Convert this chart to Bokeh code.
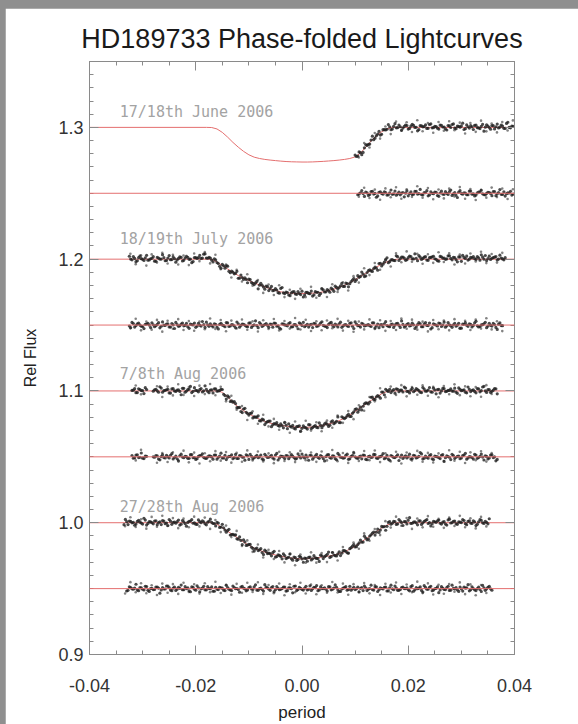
import numpy as np
from bokeh.plotting import figure
from bokeh.layouts import column
from bokeh.models import Range1d, LinearAxis, FixedTicker, Span, Label
from bokeh.embed import file_html
from bokeh.resources import INLINE

# ---------------------------------------------------------------------------
# Phase grids (orbital phase, in periods): interleaved sets of exposures
# ---------------------------------------------------------------------------
PHASE = [
    -0.0335, -0.0330, -0.0325, -0.0320, -0.0315, -0.0310, -0.0305, -0.0300, -0.0295, -0.0290,
    -0.0285, -0.0280, -0.0275, -0.0270, -0.0265, -0.0260, -0.0255, -0.0250, -0.0245, -0.0240,
    -0.0235, -0.0230, -0.0225, -0.0220, -0.0215, -0.0210, -0.0205, -0.0200, -0.0195, -0.0190,
    -0.0185, -0.0180, -0.0175, -0.0170, -0.0165, -0.0160, -0.0155, -0.0150, -0.0145, -0.0140,
    -0.0135, -0.0130, -0.0125, -0.0120, -0.0115, -0.0110, -0.0105, -0.0100, -0.0095, -0.0090,
    -0.0085, -0.0080, -0.0075, -0.0070, -0.0065, -0.0060, -0.0055, -0.0050, -0.0045, -0.0040,
    -0.0035, -0.0030, -0.0025, -0.0020, -0.0015, -0.0010, -0.0005, 0.0000, 0.0005, 0.0010,
    0.0015, 0.0020, 0.0025, 0.0030, 0.0035, 0.0040, 0.0045, 0.0050, 0.0055, 0.0060,
    0.0065, 0.0070, 0.0075, 0.0080, 0.0085, 0.0090, 0.0095, 0.0100, 0.0105, 0.0110,
    0.0115, 0.0120, 0.0125, 0.0130, 0.0135, 0.0140, 0.0145, 0.0150, 0.0155, 0.0160,
    0.0165, 0.0170, 0.0175, 0.0180, 0.0185, 0.0190, 0.0195, 0.0200, 0.0205, 0.0210,
    0.0215, 0.0220, 0.0225, 0.0230, 0.0235, 0.0240, 0.0245, 0.0250, 0.0255, 0.0260,
    0.0265, 0.0270, 0.0275, 0.0280, 0.0285, 0.0290, 0.0295, 0.0300, 0.0305, 0.0310,
    0.0315, 0.0320, 0.0325, 0.0330, 0.0335, 0.0340, 0.0345, 0.0350, 0.0355, 0.0360,
    0.0365, 0.0370, 0.0375, 0.0380, 0.0385, 0.0390, 0.0395,
]
PHASE_B = [
    -0.03325, -0.03275, -0.03225, -0.03175, -0.03125, -0.03075, -0.03025, -0.02975, -0.02925, -0.02875,
    -0.02825, -0.02775, -0.02725, -0.02675, -0.02625, -0.02575, -0.02525, -0.02475, -0.02425, -0.02375,
    -0.02325, -0.02275, -0.02225, -0.02175, -0.02125, -0.02075, -0.02025, -0.01975, -0.01925, -0.01875,
    -0.01825, -0.01775, -0.01725, -0.01675, -0.01625, -0.01575, -0.01525, -0.01475, -0.01425, -0.01375,
    -0.01325, -0.01275, -0.01225, -0.01175, -0.01125, -0.01075, -0.01025, -0.00975, -0.00925, -0.00875,
    -0.00825, -0.00775, -0.00725, -0.00675, -0.00625, -0.00575, -0.00525, -0.00475, -0.00425, -0.00375,
    -0.00325, -0.00275, -0.00225, -0.00175, -0.00125, -0.00075, -0.00025, 0.00025, 0.00075, 0.00125,
    0.00175, 0.00225, 0.00275, 0.00325, 0.00375, 0.00425, 0.00475, 0.00525, 0.00575, 0.00625,
    0.00675, 0.00725, 0.00775, 0.00825, 0.00875, 0.00925, 0.00975, 0.01025, 0.01075, 0.01125,
    0.01175, 0.01225, 0.01275, 0.01325, 0.01375, 0.01425, 0.01475, 0.01525, 0.01575, 0.01625,
    0.01675, 0.01725, 0.01775, 0.01825, 0.01875, 0.01925, 0.01975, 0.02025, 0.02075, 0.02125,
    0.02175, 0.02225, 0.02275, 0.02325, 0.02375, 0.02425, 0.02475, 0.02525, 0.02575, 0.02625,
    0.02675, 0.02725, 0.02775, 0.02825, 0.02875, 0.02925, 0.02975, 0.03025, 0.03075, 0.03125,
    0.03175, 0.03225, 0.03275, 0.03325, 0.03375, 0.03425, 0.03475, 0.03525, 0.03575, 0.03625,
    0.03675, 0.03725, 0.03775, 0.03825, 0.03875, 0.03925, 0.03975,
]
# sparser grid of the widely scattered exposures
PHASE_C = [
    -0.0333, -0.0323, -0.0313, -0.0303, -0.0293, -0.0283, -0.0273, -0.0263, -0.0253, -0.0243,
    -0.0233, -0.0223, -0.0213, -0.0203, -0.0193, -0.0183, -0.0173, -0.0163, -0.0153, -0.0143,
    -0.0133, -0.0123, -0.0113, -0.0103, -0.0093, -0.0083, -0.0073, -0.0063, -0.0053, -0.0043,
    -0.0033, -0.0023, -0.0013, -0.0003, 0.0007, 0.0017, 0.0027, 0.0037, 0.0047, 0.0057,
    0.0067, 0.0077, 0.0087, 0.0097, 0.0107, 0.0117, 0.0127, 0.0137, 0.0147, 0.0157,
    0.0167, 0.0177, 0.0187, 0.0197, 0.0207, 0.0217, 0.0227, 0.0237, 0.0247, 0.0257,
    0.0267, 0.0277, 0.0287, 0.0297, 0.0307, 0.0317, 0.0327, 0.0337, 0.0347, 0.0357,
    0.0367, 0.0377, 0.0387, 0.0397,
]

# ---------------------------------------------------------------------------
# Relative flux per night (None = no exposure at that phase)
# ---------------------------------------------------------------------------
JUNE_FLUX = [None] * 87 + [
    1.2790, 1.2782, 1.2808, 1.2810, 1.2870, 1.2871, 1.2904, 1.2907, 1.2937, 1.2969,
    1.2948, 1.2983, 1.2986, 1.3004, 1.2987, 1.3028, 1.2998, 1.3005, 1.2995, 1.3018,
    1.2987, 1.3010, 1.3015, 1.3001, 1.2983, 1.3012, 1.3006, 1.2992, 1.3022, 1.2997,
    1.3008, 1.2994, 1.3017, 1.3003, 1.2988, 1.3014, 1.2999, 1.3026, 1.2990, 1.3007,
    1.3011, 1.2984, 1.3019, 1.2995, 1.3004, 1.3015, 1.2998, 1.2991, 1.3023, 1.3002,
    1.3009, 1.2986, 1.3013, 1.3005, 1.2996, 1.3018, 1.2993, 1.3030, 1.3000, 1.3010,
]
JUNE_FLUX_B = [None] * 87 + [
    1.2779, 1.2814, 1.2793, 1.2845, 1.2863, 1.2873, 1.2933, 1.2918, 1.2949, 1.2942,
    1.2983, 1.2981, 1.3022, 1.2982, 1.3008, 1.2997, 1.3018, 1.2978, 1.3007, 1.3014,
    1.2992, 1.3023, 1.3000, 1.2974, 1.3013, 1.3004, 1.3019, 1.2993, 1.3026, 1.2998,
    1.3006, 1.2987, 1.3016, 1.3003, 1.2980, 1.3011, 1.3022, 1.2994, 1.3009, 1.3001,
    1.3032, 1.2990, 1.3005, 1.3013, 1.2984, 1.3017, 1.2996, 1.3008, 1.2971, 1.3020,
    1.2999, 1.3014, 1.2988, 1.3025, 1.3002, 1.3010, 1.2992, 1.3039, 1.2997, 1.3007,
]
JUNE_FLUX_C = [None] * 44 + [
    1.2771, 1.2881, 1.2848, 1.2957, 1.2915, 1.3007, 1.2949, 1.3044, 1.2977, 1.3039,
    1.2965, 1.3054, 1.2971, 1.3032, 1.2959, 1.3041, 1.2974, 1.3047, 1.2978, 1.3036,
    1.2954, 1.3033, 1.2966, 1.3051, 1.2970, 1.3030, 1.2962, 1.3040, 1.2976, 1.3053,
]
JUNE_RESID = [None] * 88 + [
    1.2489, 1.2504, 1.2498, 1.2508, 1.2484, 1.2513, 1.2494, 1.2470, 1.2507, 1.2499,
    1.2511, 1.2486, 1.2503, 1.2492, 1.2517, 1.2496, 1.2488, 1.2506, 1.2501, 1.2481,
    1.2510, 1.2493, 1.2515, 1.2497, 1.2490, 1.2505, 1.2520, 1.2487, 1.2500, 1.2509,
    1.2483, 1.2502, 1.2494, 1.2512, 1.2491, 1.2524, 1.2495, 1.2485, 1.2508, 1.2498,
    1.2504, 1.2489, 1.2516, 1.2493, 1.2480, 1.2503, 1.2510, 1.2496, 1.2488, 1.2507,
    1.2499, 1.2513, 1.2482, 1.2505, 1.2492, 1.2511, 1.2497, 1.2502, 1.2486,
]
JUNE_RESID_B = [None] * 88 + [
    1.2495, 1.2521, 1.2476, 1.2503, 1.2491, 1.2515, 1.2499, 1.2480, 1.2510, 1.2493,
    1.2506, 1.2488, 1.2525, 1.2496, 1.2485, 1.2508, 1.2501, 1.2473, 1.2518, 1.2498,
    1.2490, 1.2514, 1.2494, 1.2529, 1.2487, 1.2504, 1.2481, 1.2511, 1.2497, 1.2507,
    1.2477, 1.2516, 1.2492, 1.2500, 1.2512, 1.2484, 1.2505, 1.2468, 1.2520, 1.2493,
    1.2502, 1.2489, 1.2517, 1.2495, 1.2486, 1.2509, 1.2523, 1.2490, 1.2499, 1.2506,
    1.2482, 1.2513, 1.2496, 1.2528, 1.2491, 1.2479, 1.2503, 1.2515, 1.2494,
]
JUNE_RESID_C = [None] * 44 + [
    1.2474, 1.2542, 1.2464, 1.2528, 1.2451, 1.2537, 1.2470, 1.2546, 1.2459, 1.2531,
    1.2473, 1.2553, 1.2466, 1.2540, 1.2455, 1.2529, 1.2461, 1.2535, 1.2476, 1.2547,
    1.2458, 1.2532, 1.2449, 1.2527, 1.2467, 1.2543, 1.2471, 1.2536, 1.2456, 1.2530,
]

JULY_FLUX = [None] * 2 + [
    1.2022, 1.1995, 1.2006, 1.1988, 1.2023, 1.1999, 1.2010, 1.1992, 1.2003, 1.2019,
    1.1984, 1.2008, 1.2001, 1.2012, 1.1990, 1.2027, 1.1997, 1.2004, 1.1994, 1.2017,
    1.1986, 1.2009, 1.2014, 1.2000, 1.1982, 1.2011, 1.2012, 1.2006, 1.2038, 1.2009,
    1.2014, 1.1992, 1.2003, 1.1974, 1.1946, 1.1960, 1.1932, 1.1947, 1.1897, 1.1901,
    1.1893, 1.1855, 1.1880, 1.1846, 1.1846, 1.1848, 1.1822, 1.1807, 1.1831, 1.1803,
    1.1802, 1.1772, 1.1791, 1.1776, 1.1761, 1.1777, 1.1746, 1.1778, 1.1744, 1.1751,
    1.1728, 1.1744, 1.1753, 1.1733, 1.1739, 1.1757, 1.1728, 1.1748, 1.1738, 1.1720,
    1.1753, 1.1749, 1.1739, 1.1767, 1.1752, 1.1762, 1.1780, 1.1756, 1.1786, 1.1785,
    1.1816, 1.1793, 1.1814, 1.1814, 1.1841, 1.1831, 1.1875, 1.1869, 1.1886, 1.1873,
    1.1914, 1.1911, 1.1929, 1.1932, 1.1967, 1.1949, 1.1977, 1.2010, 1.1981, 1.1996,
    1.1989, 1.2019, 1.2005, 1.2016, 1.1991, 1.2012, 1.2020, 1.2002, 1.2007, 1.2027,
    1.1998, 1.2015, 1.1993, 1.2011, 1.2018, 1.2003, 1.1988, 1.2021, 1.2008, 1.1999,
    1.2025, 1.2006, 1.2014, 1.1996, 1.2017, 1.1984, 1.2013, 1.2023, 1.2000, 1.2010,
    1.2004, 1.2019, 1.1992, 1.2015, 1.2028, 1.2005, 1.1998, 1.2012, 1.2020, 1.2001,
    1.2009, 1.1995,
] + [None] * 3
JULY_FLUX_B = [None] * 2 + [
    1.2001, 1.2020, 1.1981, 1.2011, 1.2004, 1.1990, 1.2029, 1.1994, 1.2007, 1.1985,
    1.2014, 1.2001, 1.2034, 1.1988, 1.2009, 1.1996, 1.2017, 1.1977, 1.2006, 1.2013,
    1.1991, 1.2022, 1.1999, 1.1973, 1.2012, 1.2006, 1.2029, 1.2008, 1.2040, 1.2007,
    1.2008, 1.1979, 1.1994, 1.1967, 1.1932, 1.1950, 1.1949, 1.1908, 1.1909, 1.1889,
    1.1908, 1.1856, 1.1861, 1.1859, 1.1821, 1.1845, 1.1816, 1.1820, 1.1775, 1.1817,
    1.1788, 1.1796, 1.1762, 1.1793, 1.1764, 1.1766, 1.1742, 1.1785, 1.1739, 1.1747,
    1.1723, 1.1752, 1.1736, 1.1754, 1.1731, 1.1713, 1.1748, 1.1740, 1.1758, 1.1729,
    1.1749, 1.1725, 1.1774, 1.1751, 1.1769, 1.1749, 1.1771, 1.1795, 1.1773, 1.1798,
    1.1793, 1.1819, 1.1790, 1.1830, 1.1853, 1.1843, 1.1862, 1.1902, 1.1868, 1.1899,
    1.1919, 1.1907, 1.1939, 1.1916, 1.1969, 1.1962, 1.1994, 1.1973, 1.1994, 1.1990,
    1.2025, 1.1990, 1.2016, 1.2008, 1.1996, 1.2024, 1.2003, 1.2040, 1.1988, 1.2015,
    1.2006, 1.2019, 1.1991, 1.2013, 1.2022, 1.1999, 1.1985, 1.2018, 1.2009, 1.2002,
    1.2026, 1.1995, 1.2012, 1.1980, 1.2017, 1.2029, 1.2005, 1.1993, 1.2014, 1.2020,
    1.1998, 1.2010, 1.2033, 1.2000, 1.1989, 1.2023, 1.2007, 1.2015, 1.1994, 1.2030,
    1.2002, 1.2011,
] + [None] * 3
JULY_FLUX_C = [None] + [
    1.2041, 1.1962, 1.2030, 1.1951, 1.2036, 1.1974, 1.2049, 1.1967, 1.2034, 1.1959,
    1.2028, 1.1955, 1.2043, 1.1985, 1.2054, 1.1968, 1.2034, 1.1924, 1.1960, 1.1861,
    1.1919, 1.1831, 1.1886, 1.1799, 1.1841, 1.1744, 1.1808, 1.1728, 1.1802, 1.1712,
    1.1768, 1.1699, 1.1776, 1.1712, 1.1790, 1.1707, 1.1779, 1.1713, 1.1810, 1.1751,
    1.1825, 1.1762, 1.1871, 1.1822, 1.1931, 1.1879, 1.1971, 1.1920, 1.1999, 1.1944,
    1.2044, 1.1976, 1.2059, 1.1981, 1.2041, 1.1965, 1.2037, 1.1972, 1.2052, 1.1978,
    1.2045, 1.1959, 1.2036, 1.1967, 1.2043, 1.1982, 1.2056, 1.1970, 1.2039, 1.1974, 1.2048,
] + [None] * 2
JULY_RESID = [None] * 2 + [
    1.1493, 1.1520, 1.1485, 1.1509, 1.1500, 1.1489, 1.1506, 1.1513, 1.1481, 1.1502,
    1.1495, 1.1518, 1.1491, 1.1499, 1.1508, 1.1486, 1.1511, 1.1474, 1.1504, 1.1494,
    1.1515, 1.1498, 1.1488, 1.1507, 1.1501, 1.1483, 1.1512, 1.1492, 1.1503, 1.1522,
    1.1490, 1.1496, 1.1509, 1.1485, 1.1505, 1.1500, 1.1487, 1.1516, 1.1493, 1.1502,
    1.1479, 1.1510, 1.1497, 1.1506, 1.1491, 1.1514, 1.1482, 1.1501, 1.1495, 1.1519,
    1.1489, 1.1504, 1.1498, 1.1508, 1.1484, 1.1513, 1.1494, 1.1470, 1.1507, 1.1499,
    1.1511, 1.1486, 1.1503, 1.1492, 1.1517, 1.1496, 1.1488, 1.1506, 1.1501, 1.1481,
    1.1510, 1.1493, 1.1515, 1.1497, 1.1490, 1.1505, 1.1520, 1.1487, 1.1500, 1.1509,
    1.1483, 1.1502, 1.1494, 1.1512, 1.1491, 1.1524, 1.1495, 1.1485, 1.1508, 1.1498,
    1.1504, 1.1489, 1.1516, 1.1493, 1.1480, 1.1503, 1.1510, 1.1496, 1.1488, 1.1507,
    1.1499, 1.1513, 1.1482, 1.1505, 1.1492, 1.1511, 1.1497, 1.1502, 1.1486, 1.1518,
    1.1488, 1.1508, 1.1497, 1.1515, 1.1480, 1.1504, 1.1493, 1.1511, 1.1500, 1.1484,
    1.1519, 1.1495, 1.1502, 1.1491, 1.1513, 1.1476, 1.1506, 1.1499, 1.1509, 1.1486,
    1.1517, 1.1494, 1.1489, 1.1503, 1.1521, 1.1492, 1.1498, 1.1512, 1.1482, 1.1507,
    1.1496,
] + [None] * 4
JULY_RESID_B = [None] * 2 + [
    1.1481, 1.1511, 1.1496, 1.1514, 1.1491, 1.1473, 1.1508, 1.1500, 1.1517, 1.1487,
    1.1505, 1.1479, 1.1524, 1.1497, 1.1509, 1.1485, 1.1501, 1.1520, 1.1490, 1.1507,
    1.1494, 1.1512, 1.1475, 1.1504, 1.1515, 1.1492, 1.1499, 1.1527, 1.1482, 1.1502,
    1.1510, 1.1486, 1.1506, 1.1471, 1.1513, 1.1496, 1.1519, 1.1489, 1.1503, 1.1493,
    1.1523, 1.1484, 1.1508, 1.1500, 1.1488, 1.1516, 1.1495, 1.1532, 1.1480, 1.1507,
    1.1498, 1.1511, 1.1483, 1.1505, 1.1514, 1.1491, 1.1477, 1.1510, 1.1501, 1.1494,
    1.1518, 1.1487, 1.1504, 1.1472, 1.1509, 1.1521, 1.1497, 1.1485, 1.1506, 1.1512,
    1.1490, 1.1502, 1.1525, 1.1492, 1.1481, 1.1515, 1.1499, 1.1507, 1.1486, 1.1522,
    1.1494, 1.1503, 1.1489, 1.1517, 1.1474, 1.1508, 1.1496, 1.1513, 1.1493, 1.1500,
    1.1495, 1.1517, 1.1478, 1.1508, 1.1501, 1.1487, 1.1526, 1.1491, 1.1504, 1.1482,
    1.1511, 1.1498, 1.1531, 1.1485, 1.1506, 1.1493, 1.1514, 1.1474, 1.1503, 1.1510,
    1.1488, 1.1519, 1.1496, 1.1470, 1.1509, 1.1500, 1.1515, 1.1489, 1.1522, 1.1494,
    1.1502, 1.1483, 1.1512, 1.1499, 1.1476, 1.1507, 1.1518, 1.1490, 1.1505, 1.1497,
    1.1528, 1.1486, 1.1501, 1.1509, 1.1480, 1.1513, 1.1492, 1.1504, 1.1467, 1.1516,
    1.1495,
] + [None] * 4
JULY_RESID_C = [None] + [
    1.1475, 1.1548, 1.1460, 1.1527, 1.1465, 1.1539, 1.1450, 1.1533, 1.1472, 1.1545,
    1.1463, 1.1530, 1.1457, 1.1526, 1.1468, 1.1550, 1.1471, 1.1538, 1.1453, 1.1534,
    1.1474, 1.1542, 1.1464, 1.1528, 1.1451, 1.1537, 1.1470, 1.1546, 1.1459, 1.1531,
    1.1473, 1.1553, 1.1466, 1.1540, 1.1455, 1.1529, 1.1461, 1.1535, 1.1476, 1.1547,
    1.1458, 1.1532, 1.1449, 1.1527, 1.1467, 1.1543, 1.1471, 1.1536, 1.1456, 1.1530,
    1.1463, 1.1549, 1.1472, 1.1541, 1.1465, 1.1526, 1.1452, 1.1538, 1.1469, 1.1534,
    1.1460, 1.1545, 1.1474, 1.1533, 1.1462, 1.1541, 1.1473, 1.1552, 1.1467, 1.1529, 1.1454,
] + [None] * 2

AUG07_FLUX = [None] * 3 + [
    1.1004, 1.1017, 1.0988, 1.1011, 1.1002, 1.1025, None, None,
    1.0998, 1.1013, 1.0990, 1.1022, 1.1003, 1.1009, 1.0985, 1.1015, 1.1000, 1.1006,
    1.0996, 1.1020, 1.0991, 1.1010, 1.1034, 1.0997, 1.1005, 1.0993, 1.1018, 1.1001,
    1.1012, 1.0987, 1.1008, 1.1016, 1.0998, 1.1003, 1.1011, 1.0965, 1.0962, 1.0920,
    1.0915, 1.0904, 1.0873, 1.0844, 1.0863, 1.0838, 1.0817, 1.0832, 1.0803, 1.0801,
    1.0774, 1.0786, 1.0745, 1.0767, 1.0771, 1.0743, 1.0748, 1.0738, 1.0750, 1.0720,
    1.0740, 1.0751, 1.0726, 1.0717, 1.0729, 1.0736, 1.0716, 1.0724, 1.0711, 1.0743,
    1.0722, 1.0737, 1.0721, 1.0738, 1.0737, 1.0758, 1.0731, 1.0766, 1.0752, 1.0770,
    1.0760, 1.0804, 1.0790, 1.0812, 1.0806, 1.0830, 1.0860, 1.0839, 1.0877, 1.0884,
    1.0909, 1.0901, 1.0952, 1.0936, 1.0956, 1.0958, 1.0992, 1.0971, 1.1002, 1.1012,
    1.1001, 1.0983, 1.1012, 1.1006, 1.0992, 1.1022, 1.0997, 1.1008, 1.0994, 1.1017,
    1.1003, 1.0988, 1.1014, 1.0999, 1.1026, 1.0990, 1.1007, 1.1011, 1.0984, 1.1019,
    1.0995, 1.1004, 1.1015, 1.0998, 1.0991, 1.1023, 1.1002, 1.1009, 1.0986, 1.1013,
    1.1005, 1.0996, 1.1018, 1.0993, 1.1030, 1.1000, 1.1010, 1.0989, 1.1006, 1.1016,
] + [None] * 6
AUG07_FLUX_B = [None] * 3 + [
    1.1006, 1.0987, 1.1016, 1.1003, 1.0980, 1.1011, None, None,
    1.1009, 1.1001, 1.1032, 1.0990, 1.1005, 1.1013, 1.0984, 1.1017, 1.0996, 1.1008,
    1.0971, 1.1020, 1.0999, 1.1014, 1.0988, 1.1025, 1.1002, 1.1010, 1.0992, 1.1039,
    1.0997, 1.1007, 1.0985, 1.1015, 1.1000, 1.1012, 1.0975, 1.0938, 1.0953, 1.0924,
    1.0920, 1.0873, 1.0876, 1.0836, 1.0868, 1.0829, 1.0830, 1.0795, 1.0801, 1.0811,
    1.0772, 1.0780, 1.0760, 1.0771, 1.0729, 1.0753, 1.0759, 1.0733, 1.0737, 1.0762,
    1.0714, 1.0732, 1.0738, 1.0712, 1.0731, 1.0695, 1.0736, 1.0720, 1.0744, 1.0715,
    1.0731, 1.0724, 1.0757, 1.0721, 1.0750, 1.0747, 1.0740, 1.0773, 1.0759, 1.0803,
    1.0760, 1.0796, 1.0798, 1.0822, 1.0807, 1.0842, 1.0865, 1.0856, 1.0856, 1.0903,
    1.0908, 1.0915, 1.0953, 1.0936, 1.0965, 1.0945, 1.0992, 1.1013, 1.0996, 1.0988,
    1.1010, 1.1016, 1.0994, 1.1006, 1.1029, 1.0996, 1.0985, 1.1019, 1.1003, 1.1011,
    1.0990, 1.1026, 1.0998, 1.1007, 1.0993, 1.1021, 1.0978, 1.1012, 1.1000, 1.1017,
    1.0997, 1.1004, 1.0999, 1.1021, 1.0982, 1.1012, 1.1005, 1.0991, 1.1030, 1.0995,
    1.1008, 1.0986, 1.1015, 1.1002, 1.1035, 1.0989, 1.1010, 1.0997, 1.1018, 1.0978,
] + [None] * 6
AUG07_FLUX_C = [None] * 2 + [
    1.1041, 1.0974, None, None, 1.1036, 1.0954, 1.1033, 1.0966, 1.1051, 1.0970,
    1.1030, 1.0962, 1.1040, 1.0976, 1.1053, 1.0967, 1.1032, 1.0921, 1.0964, 1.0857,
    1.0886, 1.0780, 1.0845, 1.0751, 1.0819, 1.0731, 1.0788, 1.0706, 1.0759, 1.0683,
    1.0768, 1.0691, 1.0774, 1.0699, 1.0763, 1.0694, 1.0775, 1.0721, 1.0814, 1.0758,
    1.0847, 1.0786, 1.0891, 1.0850, 1.0954, 1.0921, 1.1020, 1.0953, 1.1033, 1.0970,
    1.1044, 1.0959, 1.1030, 1.0971, 1.1042, 1.0963, 1.1031, 1.0952, 1.1037, 1.0975,
    1.1050, 1.0968, 1.1035, 1.0960, 1.1029, 1.0956, 1.1044, 1.0977,
] + [None] * 4
AUG07_RESID = [None] * 3 + [
    1.0510, 1.0493, 1.0515, 1.0497, 1.0490, 1.0505, None, None,
    1.0500, 1.0509, 1.0483, 1.0502, 1.0494, 1.0512, 1.0491, 1.0524, 1.0495, 1.0485,
    1.0508, 1.0498, 1.0504, 1.0489, 1.0516, 1.0493, 1.0480, 1.0503, 1.0510, 1.0496,
    1.0488, 1.0507, 1.0499, 1.0513, 1.0482, 1.0505, 1.0492, 1.0511, 1.0497, 1.0502,
    1.0486, 1.0518, 1.0488, 1.0508, 1.0497, 1.0515, 1.0480, 1.0504, 1.0493, 1.0511,
    1.0500, 1.0484, 1.0519, 1.0495, 1.0502, 1.0491, 1.0513, 1.0476, 1.0506, 1.0499,
    1.0509, 1.0486, 1.0517, 1.0494, 1.0489, 1.0503, 1.0521, 1.0492, 1.0498, 1.0512,
    1.0482, 1.0507, 1.0496, 1.0510, 1.0487, 1.0501, 1.0516, 1.0490, 1.0505, 1.0478,
    1.0514, 1.0497, 1.0493, 1.0520, 1.0485, 1.0509, 1.0500, 1.0489, 1.0506, 1.0513,
    1.0481, 1.0502, 1.0495, 1.0518, 1.0491, 1.0499, 1.0508, 1.0486, 1.0511, 1.0474,
    1.0504, 1.0494, 1.0515, 1.0498, 1.0488, 1.0507, 1.0501, 1.0483, 1.0512, 1.0492,
    1.0503, 1.0522, 1.0490, 1.0496, 1.0509, 1.0485, 1.0505, 1.0500, 1.0487, 1.0516,
    1.0493, 1.0502, 1.0479, 1.0510, 1.0497, 1.0506, 1.0491, 1.0514, 1.0482, 1.0501,
    1.0495, 1.0519, 1.0489, 1.0504, 1.0498, 1.0508, 1.0484, 1.0513, 1.0494, 1.0470,
] + [None] * 6
AUG07_RESID_B = [None] * 3 + [
    1.0490, 1.0514, 1.0494, 1.0529, 1.0487, 1.0504, None, None,
    1.0497, 1.0507, 1.0477, 1.0516, 1.0492, 1.0500, 1.0512, 1.0484, 1.0505, 1.0468,
    1.0520, 1.0493, 1.0502, 1.0489, 1.0517, 1.0495, 1.0486, 1.0509, 1.0523, 1.0490,
    1.0499, 1.0506, 1.0482, 1.0513, 1.0496, 1.0528, 1.0491, 1.0479, 1.0503, 1.0515,
    1.0494, 1.0488, 1.0510, 1.0498, 1.0475, 1.0508, 1.0519, 1.0485, 1.0501, 1.0493,
    1.0514, 1.0478, 1.0506, 1.0497, 1.0511, 1.0483, 1.0526, 1.0492, 1.0504, 1.0487,
    1.0507, 1.0500, 1.0505, 1.0483, 1.0522, 1.0492, 1.0499, 1.0513, 1.0474, 1.0509,
    1.0496, 1.0518, 1.0489, 1.0502, 1.0469, 1.0515, 1.0494, 1.0507, 1.0486, 1.0526,
    1.0497, 1.0490, 1.0512, 1.0481, 1.0504, 1.0530, 1.0491, 1.0500, 1.0485, 1.0511,
    1.0478, 1.0506, 1.0498, 1.0517, 1.0488, 1.0501, 1.0524, 1.0493, 1.0482, 1.0510,
    1.0495, 1.0503, 1.0472, 1.0514, 1.0499, 1.0491, 1.0520, 1.0487, 1.0508, 1.0496,
    1.0533, 1.0484, 1.0505, 1.0490, 1.0516, 1.0479, 1.0502, 1.0494, 1.0512, 1.0465,
    1.0507, 1.0497, 1.0519, 1.0489, 1.0504, 1.0486, 1.0509, 1.0527, 1.0492, 1.0500,
    1.0483, 1.0513, 1.0495, 1.0521, 1.0476, 1.0503, 1.0491, 1.0515, 1.0499, 1.0480,
] + [None] * 6
AUG07_RESID_C = [None] * 2 + [
    1.0473, 1.0553, None, None, 1.0455, 1.0529, 1.0461, 1.0535, 1.0476, 1.0547,
    1.0458, 1.0532, 1.0449, 1.0527, 1.0467, 1.0543, 1.0471, 1.0536, 1.0456, 1.0530,
    1.0463, 1.0549, 1.0472, 1.0541, 1.0465, 1.0526, 1.0452, 1.0538, 1.0469, 1.0534,
    1.0460, 1.0545, 1.0474, 1.0533, 1.0462, 1.0541, 1.0473, 1.0552, 1.0467, 1.0529,
    1.0454, 1.0536, 1.0469, 1.0544, 1.0475, 1.0548, 1.0460, 1.0527, 1.0465, 1.0539,
    1.0450, 1.0533, 1.0472, 1.0545, 1.0463, 1.0530, 1.0457, 1.0526, 1.0468, 1.0550,
    1.0471, 1.0538, 1.0453, 1.0534, 1.0474, 1.0542, 1.0464, 1.0528,
] + [None] * 4

AUG27_FLUX = [
    0.9985, 1.0008, 1.0013, 0.9999, 0.9981, 1.0010, 1.0004, 0.9990, 1.0020, 0.9995,
    1.0006, 0.9992, 1.0015, 1.0001, 0.9986, 1.0012, 0.9997, 1.0024, 0.9988, 1.0005,
    1.0009, 0.9982, 1.0017, 0.9993, 1.0002, 1.0013, 0.9996, 0.9989, 1.0021, 1.0000,
    1.0007, 0.9984, 1.0011, 1.0003, 0.9994, 1.0002, 0.9964, 0.9988, 0.9944, 0.9941,
    0.9907, 0.9912, 0.9908, 0.9875, 0.9866, 0.9870, 0.9828, 0.9836, 0.9814, 0.9785,
    0.9808, 0.9794, 0.9774, 0.9792, 0.9766, 0.9765, 0.9773, 0.9739, 0.9757, 0.9744,
    0.9763, 0.9728, 0.9738, 0.9726, 0.9739, 0.9714, 0.9745, 0.9725, 0.9731, 0.9708,
    0.9739, 0.9726, 0.9734, 0.9727, 0.9754, 0.9728, 0.9750, 0.9777, 0.9743, 0.9755,
    0.9748, 0.9779, 0.9769, 0.9788, 0.9772, 0.9803, 0.9822, 0.9816, 0.9834, 0.9868,
    0.9853, 0.9884, 0.9876, 0.9908, 0.9929, 0.9928, 0.9926, 0.9972, 0.9971, 0.9973,
    1.0008, 0.9996, 1.0009, 0.9991, 1.0012, 0.9979, 1.0008, 1.0018, 0.9995, 1.0005,
    0.9999, 1.0014, 0.9987, 1.0010, 1.0023, 1.0000, 0.9993, 1.0007, 1.0015, 0.9996,
    1.0004, 0.9990, 1.0021, 0.9998, 1.0011, 0.9992, 1.0006, 1.0001, 1.0017, 0.9985,
    1.0015, 0.9995, 1.0006, 0.9988, 1.0023, 0.9999, 1.0010, 0.9992,
] + [None] * 9
AUG27_FLUX_B = [
    1.0025, 0.9986, 1.0010, 1.0002, 0.9990, 1.0018, 0.9997, 1.0034, 0.9982, 1.0009,
    1.0000, 1.0013, 0.9985, 1.0007, 1.0016, 0.9993, 0.9979, 1.0012, 1.0003, 0.9996,
    1.0020, 0.9989, 1.0006, 0.9974, 1.0011, 1.0023, 0.9999, 0.9987, 1.0008, 1.0014,
    0.9992, 1.0004, 1.0027, 0.9994, 0.9976, 0.9997, 0.9967, 0.9962, 0.9928, 0.9950,
    0.9910, 0.9906, 0.9878, 0.9892, 0.9834, 0.9854, 0.9830, 0.9835, 0.9805, 0.9802,
    0.9789, 0.9803, 0.9758, 0.9782, 0.9769, 0.9749, 0.9783, 0.9743, 0.9752, 0.9726,
    0.9751, 0.9734, 0.9764, 0.9716, 0.9735, 0.9720, 0.9740, 0.9700, 0.9729, 0.9737,
    0.9717, 0.9750, 0.9729, 0.9706, 0.9748, 0.9742, 0.9760, 0.9737, 0.9774, 0.9750,
    0.9764, 0.9751, 0.9788, 0.9783, 0.9770, 0.9811, 0.9834, 0.9818, 0.9847, 0.9853,
    0.9898, 0.9870, 0.9899, 0.9921, 0.9906, 0.9952, 0.9944, 0.9969, 0.9943, 1.0002,
    0.9989, 1.0010, 0.9987, 1.0024, 1.0001, 1.0009, 0.9991, 1.0038, 0.9996, 1.0006,
    0.9984, 1.0014, 0.9999, 1.0017, 0.9994, 0.9976, 1.0011, 1.0003, 1.0020, 0.9990,
    1.0008, 0.9982, 1.0027, 1.0000, 1.0012, 0.9988, 1.0004, 1.0023, 0.9993, 1.0010,
    0.9997, 1.0015, 0.9978, 1.0007, 1.0018, 0.9995, 1.0002, 1.0030,
] + [None] * 9
AUG27_FLUX_C = [
    0.9973, 1.0041, 0.9967, 1.0026, 0.9955, 1.0044, 0.9970, 1.0053, 0.9975, 1.0035,
    0.9959, 1.0031, 0.9966, 1.0046, 0.9972, 1.0039, 0.9953, 1.0021, 0.9929, 0.9978,
    0.9891, 0.9938, 0.9823, 0.9866, 0.9779, 0.9835, 0.9736, 0.9795, 0.9725, 0.9786,
    0.9699, 0.9760, 0.9677, 0.9759, 0.9697, 0.9775, 0.9697, 0.9770, 0.9701, 0.9776,
    0.9713, 0.9815, 0.9766, 0.9850, 0.9802, 0.9919, 0.9863, 0.9952, 0.9906, 1.0012,
    0.9963, 1.0046, 0.9977, 1.0035, 0.9953, 1.0032, 0.9965, 1.0050, 0.9969, 1.0029,
    0.9961, 1.0039, 0.9975, 1.0052, 0.9966, 1.0033, 0.9957, 1.0044, 0.9972,
] + [None] * 5
AUG27_RESID = [None] + [
    0.9482, 0.9514, 0.9498, 0.9503, 0.9489, 0.9508, 0.9495, 0.9518, 0.9487, 0.9501,
    0.9493, 0.9512, 0.9504, 0.9490, 0.9497, 0.9520, 0.9507, 0.9484, 0.9511, 0.9496,
    0.9502, 0.9492, 0.9515, 0.9505, 0.9476, 0.9509, 0.9488, 0.9506, 0.9498, 0.9517,
    0.9491, 0.9500, 0.9513, 0.9480, 0.9495, 0.9510, 0.9503, 0.9485, 0.9507, 0.9490,
    0.9519, 0.9499, 0.9494, 0.9512, 0.9504, 0.9483, 0.9508, 0.9497, 0.9514, 0.9489,
    0.9501, 0.9493, 0.9530, 0.9506, 0.9487, 0.9516, 0.9492, 0.9502, 0.9496, 0.9511,
    0.9481, 0.9505, 0.9499, 0.9518, 0.9486, 0.9509, 0.9494, 0.9503, 0.9490, 0.9521,
    0.9498, 0.9507, 0.9484, 0.9513, 0.9500, 0.9495, 0.9515, 0.9491, 0.9504, 0.9510,
    0.9478, 0.9497, 0.9508, 0.9488, 0.9517, 0.9499, 0.9493, 0.9512, 0.9502, 0.9485,
    0.9506, 0.9496, 0.9526, 0.9489, 0.9514, 0.9492, 0.9501, 0.9509, 0.9482, 0.9505,
    0.9498, 0.9519, 0.9487, 0.9494, 0.9511, 0.9500, 0.9491, 0.9515, 0.9480, 0.9507,
    0.9503, 0.9486, 0.9522, 0.9495, 0.9510, 0.9484, 0.9499, 0.9513, 0.9490, 0.9504,
    0.9493, 0.9518, 0.9488, 0.9502, 0.9508, 0.9479, 0.9497, 0.9511, 0.9506, 0.9483,
    0.9514, 0.9491, 0.9501, 0.9494, 0.9524, 0.9487, 0.9509, 0.9498,
] + [None] * 8
AUG27_RESID_B = [None] + [
    0.9487, 0.9508, 0.9496, 0.9533, 0.9484, 0.9505, 0.9490, 0.9516, 0.9479, 0.9502,
    0.9494, 0.9512, 0.9465, 0.9507, 0.9497, 0.9519, 0.9489, 0.9504, 0.9486, 0.9509,
    0.9527, 0.9492, 0.9500, 0.9483, 0.9513, 0.9495, 0.9521, 0.9476, 0.9503, 0.9491,
    0.9515, 0.9499, 0.9480, 0.9510, 0.9493, 0.9506, 0.9488, 0.9525, 0.9496, 0.9485,
    0.9508, 0.9501, 0.9473, 0.9518, 0.9498, 0.9490, 0.9514, 0.9494, 0.9529, 0.9487,
    0.9504, 0.9481, 0.9511, 0.9497, 0.9507, 0.9477, 0.9516, 0.9492, 0.9500, 0.9512,
    0.9484, 0.9505, 0.9468, 0.9520, 0.9493, 0.9502, 0.9489, 0.9517, 0.9495, 0.9486,
    0.9509, 0.9523, 0.9490, 0.9499, 0.9506, 0.9482, 0.9513, 0.9496, 0.9528, 0.9491,
    0.9479, 0.9503, 0.9515, 0.9494, 0.9488, 0.9510, 0.9498, 0.9475, 0.9508, 0.9519,
    0.9485, 0.9501, 0.9493, 0.9514, 0.9478, 0.9506, 0.9497, 0.9511, 0.9483, 0.9526,
    0.9492, 0.9504, 0.9487, 0.9507, 0.9500, 0.9505, 0.9483, 0.9522, 0.9492, 0.9499,
    0.9513, 0.9474, 0.9509, 0.9496, 0.9518, 0.9489, 0.9502, 0.9469, 0.9515, 0.9494,
    0.9507, 0.9486, 0.9526, 0.9497, 0.9490, 0.9512, 0.9481, 0.9504, 0.9530, 0.9491,
    0.9500, 0.9485, 0.9511, 0.9478, 0.9506, 0.9498, 0.9517, 0.9488,
] + [None] * 8
AUG27_RESID_C = [
    0.9463, 0.9549, 0.9472, 0.9541, 0.9465, 0.9526, 0.9452, 0.9538, 0.9469, 0.9534,
    0.9460, 0.9545, 0.9474, 0.9533, 0.9462, 0.9541, 0.9473, 0.9552, 0.9467, 0.9529,
    0.9454, 0.9536, 0.9469, 0.9544, 0.9475, 0.9548, 0.9460, 0.9527, 0.9465, 0.9539,
    0.9450, 0.9533, 0.9472, 0.9545, 0.9463, 0.9530, 0.9457, 0.9526, 0.9468, 0.9550,
    0.9471, 0.9538, 0.9453, 0.9534, 0.9474, 0.9542, 0.9464, 0.9528, 0.9451, 0.9537,
    0.9470, 0.9546, 0.9459, 0.9531, 0.9473, 0.9553, 0.9466, 0.9540, 0.9455, 0.9529,
    0.9461, 0.9535, 0.9476, 0.9547, 0.9458, 0.9532, 0.9449, 0.9527, 0.9467,
] + [None] * 5

# ---------------------------------------------------------------------------
# Fitted transit models (red curves)
# ---------------------------------------------------------------------------
MODEL_PHASE = [
    -0.040, -0.018, -0.017, -0.016, -0.015, -0.014, -0.013, -0.012, -0.011, -0.010,
    -0.009, -0.008, -0.007, -0.006, -0.005, -0.004, -0.003, -0.002, -0.001, 0.000,
    0.001, 0.002, 0.003, 0.004, 0.005, 0.006, 0.007, 0.008, 0.009, 0.010,
    0.011, 0.012, 0.013, 0.014, 0.015, 0.016, 0.017, 0.018, 0.040,
]
JUNE_MODEL = [
    1.3000, 1.3000, 1.2999, 1.2988, 1.2962, 1.2926, 1.2886, 1.2850, 1.2818, 1.2792,
    1.2774, 1.2764, 1.2757, 1.2752, 1.2748, 1.2744, 1.2741, 1.2739, 1.2738, 1.2737,
    1.2737, 1.2738, 1.2740, 1.2742, 1.2745, 1.2748, 1.2752, 1.2757, 1.2764, 1.2776,
    1.2805, 1.2850, 1.2897, 1.2937, 1.2967, 1.2988, 1.3000, 1.3000, 1.3000,
]
JULY_MODEL = [
    1.2000, 1.2000, 1.1999, 1.1978, 1.1952, 1.1926, 1.1899, 1.1876, 1.1856, 1.1837,
    1.1820, 1.1805, 1.1790, 1.1776, 1.1763, 1.1752, 1.1745, 1.1742, 1.1740, 1.1740,
    1.1740, 1.1742, 1.1745, 1.1752, 1.1762, 1.1772, 1.1787, 1.1803, 1.1820, 1.1845,
    1.1870, 1.1892, 1.1915, 1.1940, 1.1962, 1.1980, 1.1995, 1.2000, 1.2000,
]
AUG07_MODEL = [
    1.1000, 1.1000, 1.1000, 1.1000, 1.0990, 1.0955, 1.0912, 1.0878, 1.0850, 1.0826,
    1.0805, 1.0786, 1.0769, 1.0756, 1.0746, 1.0739, 1.0733, 1.0729, 1.0725, 1.0723,
    1.0724, 1.0727, 1.0732, 1.0739, 1.0749, 1.0760, 1.0775, 1.0794, 1.0817, 1.0844,
    1.0872, 1.0900, 1.0928, 1.0955, 1.0978, 1.0996, 1.1000, 1.1000, 1.1000,
]
AUG27_MODEL = [
    1.0000, 1.0000, 1.0000, 0.9988, 0.9962, 0.9935, 0.9910, 0.9882, 0.9853, 0.9828,
    0.9807, 0.9790, 0.9777, 0.9765, 0.9755, 0.9746, 0.9738, 0.9732, 0.9728, 0.9726,
    0.9727, 0.9730, 0.9735, 0.9741, 0.9747, 0.9754, 0.9765, 0.9780, 0.9799, 0.9822,
    0.9849, 0.9877, 0.9905, 0.9933, 0.9959, 0.9982, 0.9998, 1.0000, 1.0000,
]

NIGHTS = ["17/18th June 2006", "18/19th July 2006", "7/8th Aug 2006", "27/28th Aug 2006"]
NIGHT_BASELINE = [1.30, 1.20, 1.10, 1.00]
RESID_BASELINE = [1.25, 1.15, 1.05, 0.95]

X_TICKS = [-0.04, -0.02, 0.00, 0.02, 0.04]
X_TICK_LABELS = ["-0.04", "-0.02", "0.00", "0.02", "0.04"]
Y_TICKS = [0.9, 1.0, 1.1, 1.2, 1.3]
Y_TICK_LABELS = ["0.9", "1.0", "1.1", "1.2", "1.3"]

set_a = [JUNE_FLUX, JULY_FLUX, AUG07_FLUX, AUG27_FLUX,
         JUNE_RESID, JULY_RESID, AUG07_RESID, AUG27_RESID]
set_b = [JUNE_FLUX_B, JULY_FLUX_B, AUG07_FLUX_B, AUG27_FLUX_B,
         JUNE_RESID_B, JULY_RESID_B, AUG07_RESID_B, AUG27_RESID_B]
set_c = [JUNE_FLUX_C, JULY_FLUX_C, AUG07_FLUX_C, AUG27_FLUX_C,
         JUNE_RESID_C, JULY_RESID_C, AUG07_RESID_C, AUG27_RESID_C]
model_series = [JUNE_MODEL, JULY_MODEL, AUG07_MODEL, AUG27_MODEL]
for s in set_a + set_b:
    assert len(s) == len(PHASE) == len(PHASE_B)
for s in set_c:
    assert len(s) == len(PHASE_C)

# ---------------------------------------------------------------------------
# Figure
# ---------------------------------------------------------------------------
SANS = "Liberation Sans"
INK = "#1e1e1e"
MODEL_RED = "#e46f6f"
FRAME = "#8a8a8a"

p = figure(
    width=573, height=716,
    output_backend="svg", toolbar_location=None,
    x_range=Range1d(-0.04, 0.04), y_range=Range1d(0.9, 1.35),
    x_axis_label="period", y_axis_label="Rel Flux",
    min_border_left=84, min_border_right=64, min_border_top=53, min_border_bottom=70,
    background_fill_color="white", border_fill_color="white",
)
p.margin = (8, 0, 0, 5)
p.outline_line_color = None
p.grid.visible = False

p.title.text = "HD189733 Phase-folded Lightcurves"
p.title.align = "center"
p.title.text_font = SANS
p.title.text_font_size = "27px"
p.title.text_font_style = "normal"
p.title.text_color = "#1a1a1a"
p.title.standoff = 15

x_minor = [round(v, 3) for v in np.arange(-0.040, 0.0401, 0.005)]
y_minor = [round(v, 2) for v in np.arange(0.90, 1.3501, 0.01)]


def style_axis(ax, ticks, minor, labels, show_labels):
    ax.ticker = FixedTicker(ticks=ticks, minor_ticks=minor)
    ax.major_label_overrides = dict(zip(ticks, labels))
    ax.axis_line_color = FRAME
    ax.axis_line_width = 1
    ax.major_tick_line_color = FRAME
    ax.minor_tick_line_color = FRAME
    ax.major_tick_in = 9
    ax.major_tick_out = 0
    ax.minor_tick_in = 4
    ax.minor_tick_out = 0
    ax.major_label_text_font = SANS
    if show_labels:
        ax.major_label_text_font_size = "18px"
        ax.major_label_text_color = "#333333"
    else:
        # mirrored frame axis: ticks only
        ax.major_label_text_font_size = "1px"
        ax.major_label_text_color = None
        ax.major_label_standoff = 0
    ax.axis_label_text_font = SANS
    ax.axis_label_text_font_style = "normal"
    ax.axis_label_text_color = "#222222"


style_axis(p.xaxis[0], X_TICKS, x_minor, X_TICK_LABELS, True)
style_axis(p.yaxis[0], Y_TICKS, y_minor, Y_TICK_LABELS, True)
p.xaxis[0].major_label_standoff = 24
p.xaxis[0].axis_label_text_font_size = "17px"
p.xaxis[0].axis_label_standoff = 8
p.yaxis[0].major_label_standoff = 6
p.yaxis[0].axis_label_text_font_size = "16px"
p.yaxis[0].axis_label_standoff = 16

top_axis = LinearAxis(axis_label=None)
style_axis(top_axis, X_TICKS, x_minor, X_TICK_LABELS, False)
p.add_layout(top_axis, "above")
right_axis = LinearAxis(axis_label=None)
style_axis(right_axis, Y_TICKS, y_minor, Y_TICK_LABELS, False)
p.add_layout(right_axis, "right")

# residual baselines
for level in RESID_BASELINE:
    p.add_layout(Span(location=level, dimension="width", line_color=MODEL_RED, line_width=1))

# transit models
for model in model_series:
    p.line(MODEL_PHASE, model, line_color=MODEL_RED, line_width=1)

# observations: widely scattered exposures first, then the two dense sets
for grid, group, size, alpha in [(PHASE_C, set_c, 2.6, 0.55),
                                 (PHASE, set_a, 3.2, 0.8),
                                 (PHASE_B, set_b, 3.2, 0.8)]:
    gx = np.array(grid, dtype=float)
    for series in group:
        p.scatter(gx, np.array(series, dtype=float), marker="circle", size=size,
                  fill_color=INK, line_color=None, fill_alpha=alpha)

# night captions
label_rise = [0.0115, 0.0150, 0.0126, 0.0116]
for name, base, rise in zip(NIGHTS, NIGHT_BASELINE, label_rise):
    p.add_layout(Label(x=-0.0343, y=base + rise, text=name,
                       text_font="DejaVu Sans Mono", text_font_size="15px",
                       text_color="#a3a3a3", text_baseline="middle"))

page = column(p, width=578, height=724, styles={"background-color": "#8f8f8f"})

open("out.html", "w").write(file_html(page, INLINE))
